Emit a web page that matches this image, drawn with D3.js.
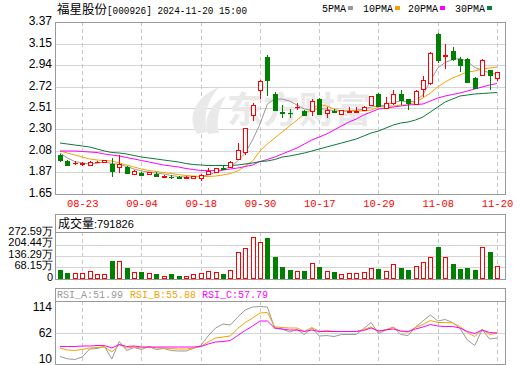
<!DOCTYPE html>
<html>
<head>
<meta charset="utf-8">
<script src="https://cdn.jsdelivr.net/npm/d3@7"></script>
<style>
  body { margin: 0; background: #fff; }
  svg { display: block; }
</style>
</head>
<body>
<svg id="chart" width="520" height="365"></svg>
<script>
// trading days shown (MM-DD)
const dates = ['08-20','08-21','08-22','08-23','08-26','08-27','08-28','08-29','08-30',
  '09-02','09-03','09-04','09-05','09-06','09-09','09-10','09-11','09-12','09-13',
  '09-18','09-19','09-20','09-23','09-24','09-25','09-26','09-27','09-30',
  '10-08','10-09','10-10','10-11','10-14','10-15','10-16','10-17','10-18',
  '10-21','10-22','10-23','10-24','10-25','10-28','10-29','10-30','10-31',
  '11-01','11-04','11-05','11-06','11-07','11-08','11-11','11-12','11-13',
  '11-14','11-15','11-18','11-19','11-20'];

const openP = [2.04,1.98,1.955,1.95,1.94,1.965,1.97,1.947,1.92,1.92,
  1.86,1.865,1.855,1.85,1.825,1.825,1.82,1.815,1.81,1.81,
  1.85,1.875,1.915,1.92,2.005,2.07,2.445,2.69,3.015,2.65,
  2.47,2.46,2.515,2.48,2.48,2.6,2.465,2.485,2.455,2.48,
  2.48,2.49,2.535,2.65,2.52,2.555,2.65,2.6,2.555,2.705,
  2.765,3.255,3.035,3.08,3.0,3.005,2.815,2.84,2.89,2.805];
const closeP = [1.99,1.94,1.96,1.955,1.97,1.97,1.985,1.873,1.95,1.86,
  1.885,1.85,1.87,1.835,1.83,1.82,1.815,1.82,1.83,1.84,
  1.88,1.91,1.91,1.965,2.09,2.305,2.54,2.78,2.785,2.495,
  2.465,2.455,2.52,2.435,2.58,2.455,2.49,2.48,2.49,2.485,
  2.485,2.52,2.63,2.53,2.565,2.65,2.59,2.565,2.68,2.79,
  3.065,2.99,3.045,3.005,2.94,2.78,2.715,2.99,2.845,2.865];
const highP = [2.05,1.99,1.98,1.97,1.98,1.98,1.99,2.007,2.04,1.925,
  1.89,1.87,1.875,1.87,1.845,1.845,1.835,1.835,1.835,1.85,
  1.91,1.915,1.935,1.98,2.165,2.31,2.565,2.79,3.04,2.675,
  2.54,2.505,2.555,2.49,2.6,2.61,2.525,2.5,2.495,2.52,
  2.52,2.53,2.635,2.66,2.625,2.695,2.69,2.605,2.69,2.825,
  3.07,3.26,3.155,3.12,3.015,3.01,2.82,3.005,2.895,2.87];
const lowP = [1.97,1.935,1.94,1.93,1.925,1.96,1.965,1.817,1.86,1.855,
  1.855,1.845,1.85,1.825,1.815,1.8,1.8,1.81,1.805,1.785,
  1.845,1.87,1.895,1.91,1.995,2.045,2.375,2.6,2.635,2.49,
  2.41,2.415,2.49,2.43,2.43,2.45,2.415,2.47,2.45,2.47,
  2.47,2.485,2.53,2.525,2.515,2.54,2.54,2.49,2.55,2.625,
  2.74,2.955,2.9,2.98,2.875,2.765,2.71,2.825,2.69,2.78];

const ma5 = [2.06,2.01,1.975,1.96,1.95,1.96,1.97,1.955,1.945,1.925,
  1.90,1.88,1.87,1.86,1.85,1.835,1.825,1.82,1.82,1.825,
  1.84,1.865,1.89,1.925,1.98,2.06,2.19,2.35,2.55,2.60,
  2.60,2.58,2.54,2.50,2.49,2.505,2.50,2.48,2.48,2.48,
  2.487,2.50,2.52,2.53,2.54,2.565,2.58,2.57,2.58,2.64,
  2.78,2.91,2.965,2.995,3.005,2.975,2.915,2.89,2.86,2.845];
const ma10 = [2.08,2.06,2.04,2.02,2.00,1.99,1.985,1.98,1.96,1.94,
  1.92,1.90,1.885,1.875,1.865,1.855,1.845,1.835,1.83,1.825,
  1.825,1.83,1.84,1.855,1.88,1.93,1.98,2.08,2.15,2.21,
  2.27,2.33,2.39,2.45,2.50,2.545,2.53,2.50,2.48,2.48,
  2.48,2.48,2.49,2.52,2.53,2.53,2.54,2.54,2.57,2.61,
  2.66,2.72,2.77,2.81,2.84,2.87,2.88,2.90,2.91,2.92];
const ma20 = [2.08,2.08,2.08,2.075,2.07,2.065,2.05,2.04,2.03,2.015,
  2.00,1.985,1.97,1.955,1.94,1.93,1.92,1.905,1.895,1.885,
  1.883,1.885,1.89,1.9,1.91,1.925,1.94,1.975,1.995,2.02,
  2.05,2.08,2.11,2.15,2.19,2.22,2.25,2.29,2.33,2.37,
  2.40,2.44,2.47,2.50,2.51,2.52,2.53,2.54,2.545,2.55,
  2.58,2.61,2.63,2.645,2.66,2.68,2.70,2.72,2.74,2.755];
const ma30 = [2.16,2.15,2.14,2.13,2.12,2.10,2.08,2.065,2.06,2.05,
  2.035,2.02,2.01,2.0,1.99,1.98,1.97,1.955,1.945,1.94,
  1.935,1.935,1.935,1.935,1.94,1.95,1.96,1.975,1.98,1.995,
  2.02,2.03,2.045,2.06,2.08,2.10,2.12,2.14,2.16,2.18,
  2.20,2.23,2.26,2.28,2.31,2.34,2.36,2.37,2.39,2.42,
  2.47,2.52,2.57,2.60,2.63,2.64,2.65,2.655,2.66,2.665];

// volume in 万 (10k lots)
const volume = [53,36,34,34,45,32,32,107,107,65,
  42,42,34,32,16,32,18,16,32,34,
  45,41,32,53,160,182,247,221,241,130,
  69,53,47,47,95,71,47,41,28,34,
  34,41,63,59,47,89,65,53,77,101,
  130,190,130,89,59,65,53,188,160,79.18];
const lastVolume = 791826;

const rsiA = [15,10.5,9,14,30,31,35,10,45,27,
  33,29,35,29,31,27,26,26,31,37,
  56,72,80,78,94,108,114,115,114,71,
  70,64,69,59,72,56,57,55,59,59,
  59,71,83,61,68,74,59,57,74,86,
  98,86,89,83,71,48,37,69,50,52];
const rsiB = [32,28,27,29,32,33,34,24,39,32,
  34,32,34,32,32,31,30,30,32,35,
  44,52,54,56,71,83,92,102,103,74,
  73,72,72,65,73,65,67,65,65,65,
  65,69,74,65,69,73,65,64,73,79,
  87,83,83,82,75,63,55,69,59,62];
const rsiC = [35,35,35,36,36,37,37,32,39,35,
  36,34,34,34,34,34,34,34,34,35,
  40,44,45,47,57,67,76,86,86,72,
  70,68,68,65,68,65,65,65,65,65,
  65,67,72,66,68,70,66,65,70,74,
  79,76,75,75,72,65,61,68,63,62];
const rsiLast = ['51.99', '55.88', '57.79'];

const priceTicks = [1.65, 1.87, 2.08, 2.30, 2.51, 2.72, 2.94, 3.15, 3.37];
const volTicks = [0, 68.15, 136.29, 204.44, 272.59];
const rsiTicks = [10, 62, 114];
const dateTicks = ['08-23','09-04','09-18','09-30','10-17','10-29','11-08','11-20'];
const maNames = ['5PMA', '10PMA', '20PMA', '30PMA'];

const RED = '#ff0000', GREEN = '#008000';
const maColors = ['#9a9a9a', '#f5a200', '#ff00ff', '#0b7a3b'];
const CJK = '"Noto Sans CJK SC", sans-serif';
const MONO = '"Liberation Mono", "DejaVu Sans Mono", monospace';
const SANS = '"Liberation Sans", Arial, sans-serif';

const svg = d3.select('#chart');
const L = 55, R = 505;

const x = d3.scalePoint().domain(dates).range([60, 497]);
const yP = d3.scaleLinear().domain([1.65, 3.37]).range([194, 22]);
const yV = d3.scaleLinear().domain([0, 272.59]).range([279, 233]);
const yR = d3.scaleLinear().domain([0, 126]).range([364, 301]);
const cx = (d) => Math.round(x(d)) + 0.5;
const snap = (v) => Math.round(v) + 0.5;

// ---------- title + legend
const title = svg.append('text').attr('x', 57).attr('y', 14).attr('fill', '#000');
title.append('tspan').attr('font-family', CJK).attr('font-size', 12.5).text('福星股份');
title.append('tspan').attr('font-family', MONO).attr('font-size', 11)
  .attr('textLength', 140).attr('lengthAdjust', 'spacingAndGlyphs')
  .text('[000926] 2024-11-20 15:00');

const legendX = [322, 363, 408, 455];
maNames.forEach((name, i) => {
  const t = svg.append('text').attr('x', legendX[i]).attr('y', 12)
    .attr('font-family', MONO).attr('font-size', 10).attr('fill', '#000').text(name);
  const w = t.node().getComputedTextLength();
  svg.append('rect').attr('x', Math.round(legendX[i] + w + 2)).attr('y', 6)
    .attr('width', 5).attr('height', 4).attr('fill', maColors[i]);
});

// ---------- main panel
const grid = svg.append('g');
grid.selectAll('.hg').data(priceTicks.slice(1, -1)).enter().append('line')
  .attr('x1', L).attr('x2', R)
  .attr('y1', (d) => snap(yP(d))).attr('y2', (d) => snap(yP(d)))
  .attr('stroke', '#d4d4d4');

function vGrid(y0, y1) {
  grid.append('g').selectAll('line').data(dateTicks).enter().append('line')
    .attr('x1', cx).attr('x2', cx).attr('y1', y0).attr('y2', y1)
    .attr('stroke', '#c8c8c8').attr('stroke-dasharray', '4,3');
}
vGrid(22, 194);
vGrid(232, 279);
vGrid(301, 364);

// watermark
const wm = svg.append('g').attr('fill', '#e9e9e9');
wm.append('path').attr('d', 'M197,134 C186,116 196,97 219,87 C207,101 203,116 207,132 Z');
wm.append('path').attr('d', 'M208,134 C203,119 210,104 226,96 C218,109 216,121 219,133 Z');
wm.append('text').attr('x', 227).attr('y', 123).attr('font-family', CJK)
  .attr('font-size', 36).attr('font-weight', 'bold').text('东方财富');

// moving averages
[ma5, ma10, ma20, ma30].forEach((arr, k) => {
  svg.append('path').datum(arr)
    .attr('fill', 'none').attr('stroke', maColors[k]).attr('stroke-width', 1)
    .attr('d', d3.line().x((d, i) => x(dates[i])).y((d) => yP(d)));
});

// candles
const candles = dates.map((d, i) => ({
  d, o: openP[i], h: highP[i], l: lowP[i], c: closeP[i], v: volume[i],
  up: closeP[i] >= openP[i]
}));
const cg = svg.append('g');
cg.selectAll('.wick').data(candles).enter().append('line')
  .attr('x1', (d) => cx(d.d)).attr('x2', (d) => cx(d.d))
  .attr('y1', (d) => Math.round(yP(d.h))).attr('y2', (d) => Math.round(yP(d.l)))
  .attr('stroke', (d) => d.up ? RED : GREEN);
cg.selectAll('.body').data(candles).enter().append('rect')
  .attr('x', (d) => cx(d.d) - 2)
  .attr('y', (d) => snap(yP(Math.max(d.o, d.c))))
  .attr('width', 4)
  .attr('height', (d) => Math.max(0.1, Math.round(Math.abs(yP(d.o) - yP(d.c)))))
  .attr('fill', (d) => d.up ? '#fff' : GREEN)
  .attr('stroke', (d) => d.up ? RED : GREEN);

// price axis
const pAxis = svg.append('g').attr('transform', `translate(${L},0)`)
  .call(d3.axisLeft(yP).tickValues(priceTicks).tickSize(0).tickPadding(3)
    .tickFormat(d3.format('.2f')));
pAxis.select('.domain').remove();
pAxis.selectAll('text').attr('font-family', SANS).attr('font-size', 12)
  .attr('fill', '#000').attr('dy', '0.2em');

// date axis
const dAxis = svg.append('g').attr('transform', 'translate(0,194)')
  .call(d3.axisBottom(x).tickValues(dateTicks).tickSize(0).tickPadding(6));
dAxis.select('.domain').remove();
dAxis.selectAll('text').attr('font-family', MONO).attr('font-size', 10.5).attr('fill', RED);

svg.append('rect').attr('x', L + 0.5).attr('y', 22.5).attr('width', R - L).attr('height', 172)
  .attr('fill', 'none').attr('stroke', '#999');

// ---------- volume panel
svg.append('g').selectAll('line').data(volTicks.slice(1, -1)).enter().append('line')
  .attr('x1', L).attr('x2', R)
  .attr('y1', (d) => snap(yV(d))).attr('y2', (d) => snap(yV(d)))
  .attr('stroke', '#d4d4d4');

svg.append('g').selectAll('rect').data(candles).enter().append('rect')
  .attr('x', (d) => cx(d.d) - 2)
  .attr('y', (d) => snap(yV(d.v)))
  .attr('width', 4)
  .attr('height', (d) => Math.round(yV(0) - yV(d.v)) - 1)
  .attr('fill', (d) => d.up ? '#fff' : GREEN)
  .attr('stroke', (d) => d.up ? RED : GREEN);

const vAxis = svg.append('g').attr('transform', `translate(${L},0)`)
  .call(d3.axisLeft(yV).tickValues(volTicks).tickSize(0).tickPadding(2)
    .tickFormat((v) => v === 0 ? '0' : v.toFixed(2) + '万'));
vAxis.select('.domain').remove();
vAxis.selectAll('text').attr('font-family', SANS).attr('font-size', 11)
  .attr('fill', '#000').attr('dy', '0.1em');

const vh = svg.append('text').attr('x', 58).attr('y', 228).attr('fill', '#000');
vh.append('tspan').attr('font-family', CJK).attr('font-size', 12).text('成交量');
vh.append('tspan').attr('font-family', SANS).attr('font-size', 11).text(':' + lastVolume);

svg.append('rect').attr('x', L + 0.5).attr('y', 214.5).attr('width', R - L).attr('height', 65)
  .attr('fill', 'none').attr('stroke', '#999');
svg.append('line').attr('x1', L).attr('x2', R).attr('y1', 232.5).attr('y2', 232.5)
  .attr('stroke', '#999');

// ---------- RSI panel
svg.append('line').attr('x1', L).attr('x2', R)
  .attr('y1', snap(yR(62))).attr('y2', snap(yR(62))).attr('stroke', '#d4d4d4');

const rsiColors = ['#999999', '#f5a200', '#ff00ff'];
[rsiA, rsiB, rsiC].forEach((arr, k) => {
  svg.append('path').datum(arr)
    .attr('fill', 'none').attr('stroke', rsiColors[k]).attr('stroke-width', 1)
    .attr('d', d3.line().x((d, i) => x(dates[i])).y((d) => yR(d)));
});

const rAxis = svg.append('g').attr('transform', `translate(${L},0)`)
  .call(d3.axisLeft(yR).tickValues(rsiTicks).tickSize(0).tickPadding(3));
rAxis.select('.domain').remove();
rAxis.selectAll('text').attr('font-family', SANS).attr('font-size', 12)
  .attr('fill', '#000').attr('dy', '0.3em');

const rsiLabelX = [57, 130, 202];
['RSI_A', 'RSI_B', 'RSI_C'].forEach((n, k) => {
  svg.append('text').attr('x', rsiLabelX[k]).attr('y', 298)
    .attr('font-family', MONO).attr('font-size', 10).attr('fill', rsiColors[k])
    .text(n + ':' + rsiLast[k]);
});

svg.append('rect').attr('x', L + 0.5).attr('y', 288.5).attr('width', R - L).attr('height', 76)
  .attr('fill', 'none').attr('stroke', '#999');
svg.append('line').attr('x1', L).attr('x2', R).attr('y1', 301.5).attr('y2', 301.5)
  .attr('stroke', '#999');
</script>
</body>
</html>
